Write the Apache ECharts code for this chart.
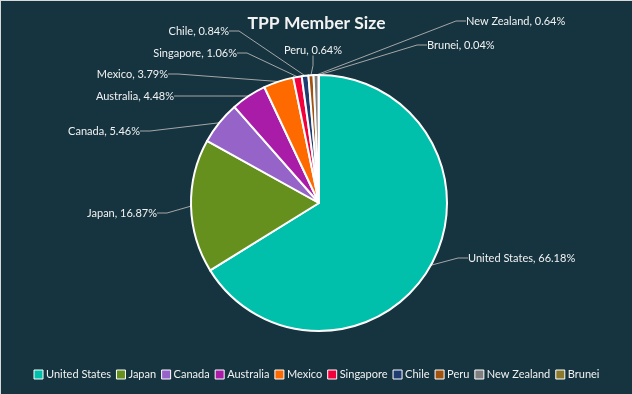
<!DOCTYPE html>
<html><head><meta charset="utf-8">
<script src="https://cdn.jsdelivr.net/npm/echarts@6/dist/echarts.min.js"></script>
<style>html,body{margin:0;padding:0;background:#15343f;}#c{width:632px;height:394px;box-sizing:border-box;border-top:1px solid #d9d9d9;border-left:1px solid #d9d9d9;}</style>
</head><body><div id="c"></div>
<script>
const categories = ['United States','Japan','Canada','Australia','Mexico','Singapore','Chile','Peru','New Zealand','Brunei'];
const shares = [66.18, 16.87, 5.46, 4.48, 3.79, 1.06, 0.84, 0.64, 0.64, 0.04];
const colors = ['#00c0ab','#66901e','#9663c8','#a81ca8','#ff6a00','#f2003c','#1f3d72','#a0520f','#7f7f7f','#8b7a2e'];
// label placement (layout only)
const labelPos = {
  'United States': [467, 257, 'left'],
  'Japan': [156, 212, 'right'],
  'Canada': [139, 130, 'right'],
  'Australia': [173, 95, 'right'],
  'Mexico': [167, 73, 'right'],
  'Singapore': [236, 52, 'right'],
  'Chile': [228, 30, 'right'],
  'Peru': [312, 49, 'center'],
  'New Zealand': [465, 20, 'left'],
  'Brunei': [426, 44, 'left']
};
const chart = echarts.init(document.getElementById('c'));
const font = 'Lato, "Open Sans", sans-serif';
chart.setOption({
  backgroundColor: '#15343f',
  color: colors,
  title: { text: 'TPP Member Size', left: 'center', top: 8,
    textStyle: { color: '#f2f2f2', fontSize: 17.5, fontWeight: 'bold', fontFamily: font } },
  legend: { bottom: 9, left: 'center', itemWidth: 9, itemHeight: 9, itemGap: 5,
    icon: 'rect',
    itemStyle: { borderColor: '#ffffff', borderWidth: 1 },
    textStyle: { color: '#f2f2f2', fontSize: 11, fontFamily: font, padding: [0,0,0,-2] },
    data: categories },
  series: [{
    type: 'pie', center: [318, 202], radius: 128, startAngle: 90, clockwise: true,
    animation: false,
    itemStyle: { borderColor: '#ffffff', borderWidth: 2 },
    label: { show: true, color: '#f2f2f2', fontSize: 11, fontFamily: font,
      formatter: p => p.name + ', ' + p.value.toFixed(2) + '%' },
    labelLine: { show: true, length: 15, length2: 10, lineStyle: { color: '#a6a6a6', width: 1 } },
    labelLayout: function (params) {
      const name = categories[params.dataIndex];
      const p = labelPos[name];
      return { x: p[0], y: p[1], align: p[2], verticalAlign: 'middle' };
    },
    data: categories.map((c, i) => ({ name: c, value: shares[i] }))
  }]
});
</script></body></html>
